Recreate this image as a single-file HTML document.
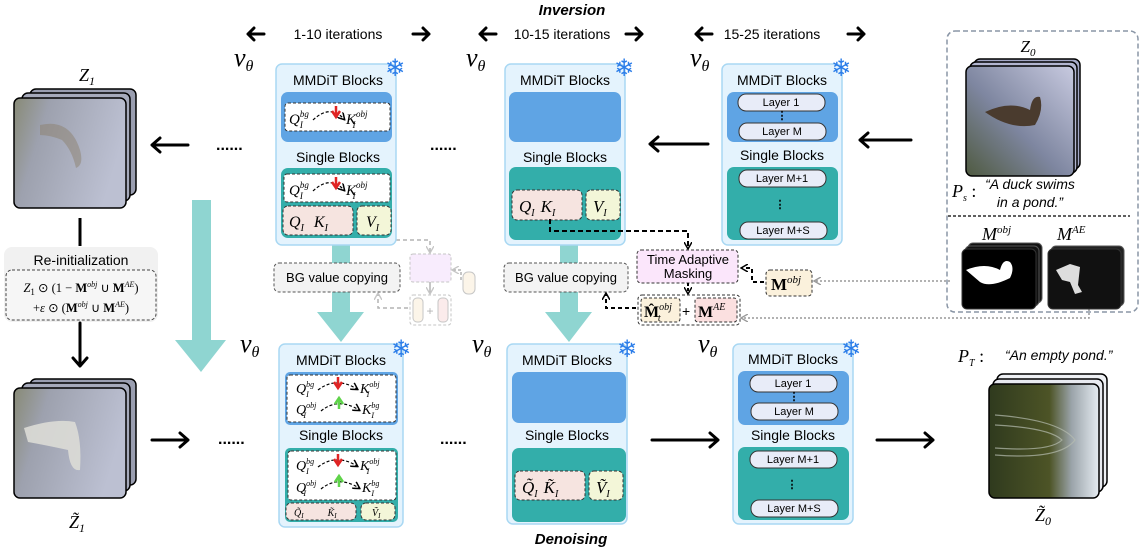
<!DOCTYPE html>
<html><head><meta charset="utf-8"><style>
html,body{margin:0;padding:0;background:#fff;}
svg{display:block;}
.s{font-family:"Liberation Sans",sans-serif;}
.m{font-family:"Liberation Serif",serif;font-style:italic;}
.sn{font-family:"DejaVu Sans",sans-serif;fill:#2b7de9;}
</style></head><body>
<svg width="1142" height="549" viewBox="0 0 1142 549" xmlns="http://www.w3.org/2000/svg">
<defs>
<marker id="ah" markerWidth="8" markerHeight="8" refX="6" refY="4" orient="auto" markerUnits="userSpaceOnUse"><path d="M0,0 L7,4 L0,8" fill="none" stroke="#000" stroke-width="1.5"/></marker>
<marker id="ag" markerWidth="8" markerHeight="8" refX="6" refY="4" orient="auto" markerUnits="userSpaceOnUse"><path d="M0,0 L7,4 L0,8" fill="none" stroke="#999" stroke-width="1.4"/></marker>
<linearGradient id="noise" x1="0" y1="0" x2="1" y2="0.3"><stop offset="0" stop-color="#888a76"/><stop offset="0.3" stop-color="#9da1ae"/><stop offset="1" stop-color="#bcc0d2"/></linearGradient>
<linearGradient id="duck" x1="0" y1="1" x2="1" y2="0"><stop offset="0" stop-color="#4f5a40"/><stop offset="0.45" stop-color="#7e86a0"/><stop offset="1" stop-color="#c8cae0"/></linearGradient>
<linearGradient id="pond" x1="0" y1="0" x2="1" y2="0"><stop offset="0" stop-color="#2f3a1e"/><stop offset="0.55" stop-color="#4d5426"/><stop offset="0.75" stop-color="#9aa3a9"/><stop offset="1" stop-color="#e6ecf2"/></linearGradient>
</defs>

<!-- header -->
<text x="572" y="15" class="s" font-size="15" font-weight="bold" font-style="italic" text-anchor="middle">Inversion</text>
<g class="s" font-size="14" text-anchor="middle">
<text x="338" y="39">1-10 iterations</text>
<text x="562" y="39">10-15 iterations</text>
<text x="772" y="39">15-25 iterations</text>
</g>
<g stroke="#000" stroke-width="3" fill="none" stroke-linecap="round" stroke-linejoin="round">
<path d="M248,34 H264 M254,28 L248,34 L254,40"/>
<path d="M413,34 H429 M423,28 L429,34 L423,40"/>
<path d="M480,34 H496 M486,28 L480,34 L486,40"/>
<path d="M626,34 H642 M636,28 L642,34 L636,40"/>
<path d="M696,34 H712 M702,28 L696,34 L702,40"/>
<path d="M848,34 H864 M858,28 L864,34 L858,40"/>
</g>

<!-- v_theta labels -->
<g class="m" font-size="26">
<text x="234" y="66">v<tspan font-size="16" dy="5">θ</tspan></text>
<text x="466" y="66">v<tspan font-size="16" dy="5">θ</tspan></text>
<text x="690" y="66">v<tspan font-size="16" dy="5">θ</tspan></text>
<text x="240" y="352">v<tspan font-size="16" dy="5">θ</tspan></text>
<text x="472" y="352">v<tspan font-size="16" dy="5">θ</tspan></text>
<text x="698" y="352">v<tspan font-size="16" dy="5">θ</tspan></text>
</g>

<!-- teal big arrows -->
<g fill="#8fd5d1">
<path d="M192,200 H211 V340 H226 L201,372 L175,340 H192 Z"/>
<path d="M332,244 H350 V312 H364 L341,342 L317,312 H332 Z"/>
<path d="M560,244 H578 V312 H592 L569,342 L545,312 H560 Z"/>
</g>

<!-- BG value copying boxes -->
<g class="s" font-size="13">
<rect x="274" y="263" width="126" height="29" rx="5" fill="#f3f3f3" stroke="#555" stroke-dasharray="3,2"/>
<text x="337" y="282" text-anchor="middle">BG value copying</text>
<rect x="504" y="263" width="124" height="29" rx="5" fill="#f3f3f3" stroke="#555" stroke-dasharray="3,2"/>
<text x="566" y="282" text-anchor="middle">BG value copying</text>
</g>

<!-- faded mini diagram -->
<g opacity="0.55">
<rect x="410" y="254" width="41" height="28" rx="3" fill="#f4defc" stroke="#999" stroke-dasharray="3,2"/>
<rect x="463" y="272" width="12" height="22" rx="5" fill="#faeed8" stroke="#999"/>
<rect x="410" y="295" width="41" height="30" rx="3" fill="#fff" stroke="#999" stroke-dasharray="3,2"/>
<rect x="413" y="298" width="10" height="24" rx="4" fill="#faeed8" stroke="#999"/>
<rect x="438" y="298" width="10" height="24" rx="4" fill="#f9dcdc" stroke="#999"/>
<text x="430" y="315" class="s" font-size="12" fill="#777" text-anchor="middle">+</text>
<path d="M320,239 V240 H430 V252" fill="none" stroke="#777" stroke-width="1.5" stroke-dasharray="4,3" marker-end="url(#ag)"/>
<path d="M461,280 V270 H453" fill="none" stroke="#777" stroke-width="1.5" stroke-dasharray="3,2" marker-end="url(#ag)"/>
<path d="M430,282 V293" fill="none" stroke="#777" stroke-width="1.5" marker-end="url(#ag)"/>
<path d="M408,308 H378 V294" fill="none" stroke="#777" stroke-width="1.5" stroke-dasharray="4,3" marker-end="url(#ag)"/>
</g>

<!-- P1 -->
<rect x="276" y="64" width="120" height="181" rx="6" fill="#e4f3fd" stroke="#a9d8f3" stroke-width="1.5"/>
<text x="338" y="85" class="s" font-size="14" text-anchor="middle">MMDiT Blocks</text>
<rect x="281" y="92" width="111" height="50" rx="7" fill="#5fa4e4"/>
<rect x="285" y="103" width="105" height="28" rx="3" fill="#fff" stroke="#333" stroke-dasharray="3,2"/>
<text x="289" y="124" class="m" font-size="15">Q<tspan font-size="9" dy="-7">bg</tspan><tspan font-size="9" dx="-9" dy="11">I</tspan></text>
<text x="346" y="124" class="m" font-size="15">K<tspan font-size="9" dy="-7">obj</tspan><tspan font-size="9" dx="-15" dy="11">I</tspan></text>
<path d="M313,120 Q330,104 344,119" fill="none" stroke="#000" stroke-width="1.2" stroke-dasharray="3,2" marker-end="url(#ah)"/>
<path d="M336,106 V115 M332,111 L336,117 L340,111" fill="none" stroke="#e02424" stroke-width="2.5"/>
<text x="338" y="162" class="s" font-size="14" text-anchor="middle">Single Blocks</text>
<rect x="281" y="168" width="111" height="70" rx="7" fill="#33aeaa"/>
<rect x="284" y="174" width="106" height="28" rx="3" fill="#fff" stroke="#333" stroke-dasharray="3,2"/>
<text x="289" y="195" class="m" font-size="15">Q<tspan font-size="9" dy="-7">bg</tspan><tspan font-size="9" dx="-9" dy="11">I</tspan></text>
<text x="346" y="195" class="m" font-size="15">K<tspan font-size="9" dy="-7">obj</tspan><tspan font-size="9" dx="-15" dy="11">I</tspan></text>
<path d="M313,191 Q330,175 344,190" fill="none" stroke="#000" stroke-width="1.2" stroke-dasharray="3,2" marker-end="url(#ah)"/>
<path d="M336,177 V186 M332,182 L336,188 L340,182" fill="none" stroke="#e02424" stroke-width="2.5"/>
<rect x="283" y="206" width="70" height="29" rx="5" fill="#f6e4e0" stroke="#333" stroke-dasharray="3,2"/>
<text x="289" y="227" class="m" font-size="16">Q<tspan font-size="10" dy="4">I</tspan><tspan dx="10" dy="-4">K</tspan><tspan font-size="10" dy="4">I</tspan></text>
<rect x="357" y="206" width="34" height="29" rx="5" fill="#f3f6d8" stroke="#333" stroke-dasharray="3,2"/>
<text x="366" y="227" class="m" font-size="16">V<tspan font-size="10" dy="4">I</tspan></text>
<text x="385" y="76" class="sn" font-size="24">❄</text>

<!-- P2 -->
<rect x="505" y="64" width="120" height="181" rx="6" fill="#e4f3fd" stroke="#a9d8f3" stroke-width="1.5"/>
<text x="565" y="85" class="s" font-size="14" text-anchor="middle">MMDiT Blocks</text>
<rect x="509" y="92" width="112" height="50" rx="7" fill="#5fa4e4"/>
<text x="565" y="162" class="s" font-size="14" text-anchor="middle">Single Blocks</text>
<rect x="509" y="167" width="112" height="73" rx="7" fill="#33aeaa"/>
<rect x="512" y="190" width="70" height="30" rx="5" fill="#f6e4e0" stroke="#333" stroke-dasharray="3,2"/>
<text x="519" y="212" class="m" font-size="17">Q<tspan font-size="10" dy="4">I</tspan><tspan dx="6" dy="-4">K</tspan><tspan font-size="10" dy="4">I</tspan></text>
<rect x="586" y="190" width="34" height="30" rx="5" fill="#f3f6d8" stroke="#333" stroke-dasharray="3,2"/>
<text x="593" y="212" class="m" font-size="17">V<tspan font-size="10" dy="4">I</tspan></text>
<text x="614" y="76" class="sn" font-size="24">❄</text>

<!-- P3 -->
<rect x="722" y="64" width="120" height="181" rx="6" fill="#e4f3fd" stroke="#a9d8f3" stroke-width="1.5"/>
<text x="782" y="85" class="s" font-size="14" text-anchor="middle">MMDiT Blocks</text>
<rect x="727" y="92" width="111" height="50" rx="7" fill="#5fa4e4"/>
<g class="s" font-size="11" text-anchor="middle">
<rect x="738" y="94" width="87" height="17" rx="8" fill="#e8ecf8" stroke="#333"/><text x="781" y="106">Layer 1</text>
<text x="782" y="119" font-weight="bold">⋮</text>
<rect x="739" y="123" width="87" height="17" rx="8" fill="#e8ecf8" stroke="#333"/><text x="782" y="135">Layer M</text>
</g>
<text x="782" y="160" class="s" font-size="14" text-anchor="middle">Single Blocks</text>
<rect x="727" y="167" width="111" height="73" rx="7" fill="#33aeaa"/>
<g class="s" font-size="11" text-anchor="middle">
<rect x="739" y="170" width="87" height="17" rx="8" fill="#e8ecf8" stroke="#333"/><text x="782" y="182">Layer M+1</text>
<text x="780" y="208" font-weight="bold">⋮</text>
<rect x="740" y="222" width="87" height="17" rx="8" fill="#e8ecf8" stroke="#333"/><text x="783" y="234">Layer M+S</text>
</g>
<text x="831" y="76" class="sn" font-size="24">❄</text>

<!-- P4 -->
<rect x="279" y="344" width="124" height="183" rx="6" fill="#e4f3fd" stroke="#a9d8f3" stroke-width="1.5"/>
<text x="341" y="365" class="s" font-size="14" text-anchor="middle">MMDiT Blocks</text>
<rect x="285" y="372" width="113" height="53" rx="5" fill="#5fa4e4"/>
<rect x="287" y="375" width="109" height="47" rx="3" fill="#fff" stroke="#333" stroke-dasharray="3,2"/>
<g class="m" font-size="14">
<text x="296" y="393">Q<tspan font-size="8" dy="-6">bg</tspan><tspan font-size="8" dx="-8" dy="10">I</tspan></text>
<text x="360" y="393">K<tspan font-size="8" dy="-6">obj</tspan><tspan font-size="8" dx="-13" dy="10">I</tspan></text>
<text x="296" y="414">Q<tspan font-size="8" dy="-6">obj</tspan><tspan font-size="8" dx="-13" dy="10">I</tspan></text>
<text x="362" y="414">K<tspan font-size="8" dy="-6">bg</tspan><tspan font-size="8" dx="-8" dy="10">I</tspan></text>
</g>
<path d="M318,390 Q336,376 357,389" fill="none" stroke="#000" stroke-width="1.2" stroke-dasharray="3,2" marker-end="url(#ah)"/>
<path d="M321,411 Q338,397 359,410" fill="none" stroke="#000" stroke-width="1.2" stroke-dasharray="3,2" marker-end="url(#ah)"/>
<path d="M338,377 V386 M334,382 L338,388 L342,382" fill="none" stroke="#e02424" stroke-width="2.5"/>
<path d="M339,409 V400 M335,404 L339,398 L343,404" fill="none" stroke="#5fd34a" stroke-width="2.5"/>
<text x="341" y="440" class="s" font-size="14" text-anchor="middle">Single Blocks</text>
<rect x="285" y="448" width="113" height="74" rx="5" fill="#33aeaa"/>
<rect x="288" y="451" width="108" height="49" rx="3" fill="#fff" stroke="#333" stroke-dasharray="3,2"/>
<g class="m" font-size="14">
<text x="296" y="470">Q<tspan font-size="8" dy="-6">bg</tspan><tspan font-size="8" dx="-8" dy="10">I</tspan></text>
<text x="360" y="470">K<tspan font-size="8" dy="-6">obj</tspan><tspan font-size="8" dx="-13" dy="10">I</tspan></text>
<text x="296" y="492">Q<tspan font-size="8" dy="-6">obj</tspan><tspan font-size="8" dx="-13" dy="10">I</tspan></text>
<text x="362" y="492">K<tspan font-size="8" dy="-6">bg</tspan><tspan font-size="8" dx="-8" dy="10">I</tspan></text>
</g>
<path d="M318,467 Q336,453 357,466" fill="none" stroke="#000" stroke-width="1.2" stroke-dasharray="3,2" marker-end="url(#ah)"/>
<path d="M321,489 Q338,475 359,488" fill="none" stroke="#000" stroke-width="1.2" stroke-dasharray="3,2" marker-end="url(#ah)"/>
<path d="M338,454 V463 M334,459 L338,465 L342,459" fill="none" stroke="#e02424" stroke-width="2.5"/>
<path d="M339,487 V478 M335,482 L339,476 L343,482" fill="none" stroke="#5fd34a" stroke-width="2.5"/>
<rect x="286" y="503" width="70" height="17" rx="5" fill="#f6e4e0" stroke="#333" stroke-dasharray="3,2"/>
<text x="294" y="516" class="m" font-size="10">Q̃<tspan font-size="7" dy="2">I</tspan><tspan dx="24" dy="-2">K̃</tspan><tspan font-size="7" dy="2">I</tspan></text>
<rect x="361" y="503" width="34" height="17" rx="5" fill="#f3f6d8" stroke="#333" stroke-dasharray="3,2"/>
<text x="372" y="516" class="m" font-size="10">Ṽ<tspan font-size="7" dy="2">I</tspan></text>
<text x="391" y="357" class="sn" font-size="24">❄</text>

<!-- P5 -->
<rect x="507" y="344" width="120" height="180" rx="6" fill="#e4f3fd" stroke="#a9d8f3" stroke-width="1.5"/>
<text x="567" y="365" class="s" font-size="14" text-anchor="middle">MMDiT Blocks</text>
<rect x="512" y="372" width="114" height="51" rx="7" fill="#5fa4e4"/>
<text x="567" y="440" class="s" font-size="14" text-anchor="middle">Single Blocks</text>
<rect x="512" y="448" width="114" height="74" rx="7" fill="#33aeaa"/>
<rect x="515" y="471" width="70" height="29" rx="5" fill="#f6e4e0" stroke="#333" stroke-dasharray="3,2"/>
<text x="522" y="493" class="m" font-size="17">Q̃<tspan font-size="10" dy="4">I</tspan><tspan dx="6" dy="-4">K̃</tspan><tspan font-size="10" dy="4">I</tspan></text>
<rect x="589" y="471" width="34" height="29" rx="5" fill="#f3f6d8" stroke="#333" stroke-dasharray="3,2"/>
<text x="596" y="493" class="m" font-size="17">Ṽ<tspan font-size="10" dy="4">I</tspan></text>
<text x="617" y="357" class="sn" font-size="24">❄</text>
<text x="571" y="544" class="s" font-size="15" font-weight="bold" font-style="italic" text-anchor="middle">Denoising</text>

<!-- P6 -->
<rect x="733" y="344" width="120" height="180" rx="6" fill="#e4f3fd" stroke="#a9d8f3" stroke-width="1.5"/>
<text x="793" y="364" class="s" font-size="14" text-anchor="middle">MMDiT Blocks</text>
<rect x="738" y="371" width="111" height="54" rx="7" fill="#5fa4e4"/>
<g class="s" font-size="11" text-anchor="middle">
<rect x="750" y="375" width="87" height="17" rx="8" fill="#e8ecf8" stroke="#333"/><text x="793" y="387">Layer 1</text>
<text x="794" y="400" font-weight="bold">⋮</text>
<rect x="751" y="403" width="87" height="17" rx="8" fill="#e8ecf8" stroke="#333"/><text x="794" y="415">Layer M</text>
</g>
<text x="793" y="440" class="s" font-size="14" text-anchor="middle">Single Blocks</text>
<rect x="738" y="447" width="111" height="73" rx="7" fill="#33aeaa"/>
<g class="s" font-size="11" text-anchor="middle">
<rect x="750" y="451" width="87" height="17" rx="8" fill="#e8ecf8" stroke="#333"/><text x="793" y="463">Layer M+1</text>
<text x="792" y="488" font-weight="bold">⋮</text>
<rect x="751" y="500" width="87" height="17" rx="8" fill="#e8ecf8" stroke="#333"/><text x="794" y="512">Layer M+S</text>
</g>
<text x="841" y="357" class="sn" font-size="24">❄</text>

<!-- Time adaptive masking -->
<path d="M550,219 V231 H688 V248" fill="none" stroke="#000" stroke-width="2" stroke-dasharray="5,3" marker-end="url(#ah)"/>
<rect x="637" y="250" width="101" height="33" rx="4" fill="#fbe6fb" stroke="#333" stroke-dasharray="3,2"/>
<text x="688" y="264" class="s" font-size="13" text-anchor="middle">Time Adaptive</text>
<text x="688" y="278" class="s" font-size="13" text-anchor="middle">Masking</text>
<rect x="766" y="270" width="46" height="26" rx="4" fill="#fbf1dc" stroke="#333" stroke-dasharray="3,2"/>
<text x="771" y="290" font-family="Liberation Serif,serif" font-weight="bold" font-size="17">M<tspan font-style="italic" font-weight="normal" font-size="11" dy="-7">obj</tspan></text>
<path d="M764,282 H752 V268 H742" fill="none" stroke="#000" stroke-width="2" stroke-dasharray="4,3" marker-end="url(#ah)"/>
<path d="M688,283 V293" fill="none" stroke="#000" stroke-width="2" stroke-dasharray="3,2" marker-end="url(#ah)"/>
<rect x="638" y="295" width="102" height="30" rx="4" fill="#fff" stroke="#333" stroke-dasharray="3,2"/>
<rect x="641" y="298" width="39" height="24" rx="3" fill="#fbf1dc" stroke="#333" stroke-dasharray="3,2"/>
<rect x="695" y="298" width="42" height="24" rx="3" fill="#fbe0e0" stroke="#333" stroke-dasharray="3,2"/>
<text x="644" y="317" font-family="Liberation Serif,serif" font-weight="bold" font-size="16">M̂<tspan font-style="italic" font-weight="normal" font-size="10" dy="-7">obj</tspan><tspan font-style="italic" font-weight="normal" font-size="10" dx="-14" dy="11">t</tspan></text>
<text x="682" y="316" class="s" font-size="14">+</text>
<text x="698" y="317" font-family="Liberation Serif,serif" font-weight="bold" font-size="16">M<tspan font-style="italic" font-weight="normal" font-size="10" dy="-7">AE</tspan></text>
<path d="M636,308 H606 V294" fill="none" stroke="#000" stroke-width="2" stroke-dasharray="4,3" marker-end="url(#ah)"/>
<path d="M950,281 H815" fill="none" stroke="#999" stroke-width="1.5" stroke-dasharray="2,2" marker-end="url(#ag)"/>
<path d="M1089,305 V318 H742" fill="none" stroke="#999" stroke-width="1.5" stroke-dasharray="2,2" marker-end="url(#ag)"/>

<!-- horizontal arrows + dots -->
<g stroke="#000" stroke-width="3" fill="none" stroke-linecap="round" stroke-linejoin="round">
<path d="M152,145 H188 M160,138 L152,145 L160,152"/>
<path d="M650,144 H708 M658,137 L650,144 L658,151"/>
<path d="M860,140 H911 M868,133 L860,140 L868,147"/>
<path d="M152,440 H188 M180,433 L188,440 L180,447"/>
<path d="M652,440 H718 M710,433 L718,440 L710,447"/>
<path d="M877,440 H933 M925,433 L933,440 L925,447"/>
</g>
<g class="s" font-size="16" font-weight="bold">
<text x="216" y="150">......</text>
<text x="430" y="150">......</text>
<text x="218" y="444">......</text>
<text x="440" y="444">......</text>
</g>

<!-- left column -->
<text x="87" y="81" class="m" font-size="18" text-anchor="middle">Z<tspan font-size="12" dy="4">1</tspan></text>
<rect x="30" y="89" width="106" height="106" rx="6" fill="#9a9eb0" stroke="#000" stroke-width="1.5"/>
<rect x="22" y="93" width="108" height="108" rx="6" fill="#a6aabb" stroke="#000" stroke-width="1.5"/>
<rect x="14" y="98" width="112" height="110" rx="6" fill="url(#noise)" stroke="#000" stroke-width="1.5"/>
<path d="M40,125 Q70,118 80,150 Q84,165 76,168 Q72,150 62,140 Q50,135 40,135 Z" fill="#8a7c66" opacity="0.45"/>
<path d="M80,218 V246" stroke="#000" stroke-width="3"/>
<rect x="4" y="247" width="154" height="75" rx="8" fill="#f1f1f1"/>
<text x="81" y="265" class="s" font-size="14" text-anchor="middle">Re-initialization</text>
<rect x="6" y="270" width="150" height="50" rx="6" fill="#f6f6f6" stroke="#444" stroke-dasharray="3,2"/>
<text x="81" y="292" font-family="Liberation Serif,serif" font-size="12.5" text-anchor="middle"><tspan font-style="italic">Z</tspan><tspan font-size="9" dy="3">1</tspan><tspan dy="-3"> ⊙ (1 − </tspan><tspan font-weight="bold">M</tspan><tspan font-style="italic" font-size="8" dy="-5">obj</tspan><tspan dy="5"> ∪ </tspan><tspan font-weight="bold">M</tspan><tspan font-style="italic" font-size="8" dy="-5">AE</tspan><tspan dy="5">)</tspan></text>
<text x="81" y="312" font-family="Liberation Serif,serif" font-size="12.5" text-anchor="middle">+<tspan font-style="italic">ε</tspan> ⊙ (<tspan font-weight="bold">M</tspan><tspan font-style="italic" font-size="8" dy="-5">obj</tspan><tspan dy="5"> ∪ </tspan><tspan font-weight="bold">M</tspan><tspan font-style="italic" font-size="8" dy="-5">AE</tspan><tspan dy="5">)</tspan></text>
<g stroke="#000" stroke-width="3" fill="none" stroke-linecap="round" stroke-linejoin="round">
<path d="M80,323 V366 M73,358 L80,366 L87,358"/>
</g>
<rect x="30" y="379" width="106" height="106" rx="6" fill="#9a9eb0" stroke="#000" stroke-width="1.5"/>
<rect x="22" y="383" width="108" height="108" rx="6" fill="#a6aabb" stroke="#000" stroke-width="1.5"/>
<rect x="14" y="388" width="112" height="110" rx="6" fill="url(#noise)" stroke="#000" stroke-width="1.5"/>
<path d="M24,428 Q55,418 75,422 Q82,440 80,470 Q70,472 68,450 Q45,445 28,442 Z" fill="#dcdcd6" opacity="0.9"/>
<text x="77" y="528" class="m" font-size="18" text-anchor="middle">Z̃<tspan font-size="12" dy="4">1</tspan></text>

<!-- right source box -->
<rect x="947" y="31" width="191" height="281" rx="8" fill="none" stroke="#8a96a6" stroke-width="1.5" stroke-dasharray="5,3"/>
<text x="1028" y="52" class="m" font-size="17" text-anchor="middle">Z<tspan font-size="11" dy="4">0</tspan></text>
<rect x="974" y="59" width="106" height="110" rx="6" fill="#a4a8c6" stroke="#000" stroke-width="1.5"/>
<rect x="970" y="62" width="107" height="111" rx="6" fill="#b2b5d0" stroke="#000" stroke-width="1.5"/>
<rect x="966" y="66" width="108" height="110" rx="6" fill="url(#duck)" stroke="#000" stroke-width="1.5"/>
<path d="M985,112 Q1010,100 1030,110 Q1032,95 1040,97 Q1044,110 1035,125 Q1010,130 985,112 Z" fill="#4a3b2e"/>
<text x="952" y="197" class="m" font-size="18">P<tspan font-size="10" dy="4">s</tspan><tspan dy="-4" font-style="normal"> :</tspan></text>
<text x="1030" y="189" class="s" font-size="14" font-style="italic" text-anchor="middle">“A duck swims</text>
<text x="1030" y="207" class="s" font-size="14" font-style="italic" text-anchor="middle">in a pond.”</text>
<path d="M948,216 H1130" stroke="#000" stroke-width="1.3" stroke-dasharray="3,2"/>
<text x="982" y="240" class="m" font-size="18">M<tspan font-size="11" dy="-7">obj</tspan></text>
<text x="1057" y="240" class="m" font-size="18">M<tspan font-size="11" dy="-7">AE</tspan></text>
<rect x="968" y="243" width="74" height="60" rx="5" fill="#111" stroke="#555"/>
<rect x="965" y="246" width="74" height="60" rx="5" fill="#111" stroke="#555"/>
<rect x="962" y="249" width="74" height="60" rx="5" fill="#000" stroke="#333"/>
<path d="M966,270 Q985,262 1000,270 Q1003,258 1010,262 Q1015,268 1010,278 Q990,288 980,282 Z" fill="#fff"/>
<rect x="1051" y="246" width="73" height="60" rx="5" fill="#222" stroke="#555"/>
<rect x="1048" y="249" width="73" height="60" rx="5" fill="#111" stroke="#333"/>
<path d="M1056,270 L1070,264 L1080,267 L1078,285 L1082,292 L1075,294 L1070,282 L1062,280 Z" fill="#ddd"/>

<!-- output -->
<text x="958" y="362" class="m" font-size="18">P<tspan font-size="10" dy="4">T</tspan><tspan dy="-4" font-style="normal"> :</tspan></text>
<text x="1005" y="360" class="s" font-size="14" font-style="italic">“An empty pond.”</text>
<rect x="997" y="374" width="110" height="113" rx="6" fill="#eef0f4" stroke="#000" stroke-width="1.5"/>
<rect x="993" y="379" width="110" height="113" rx="6" fill="#e8eaf0" stroke="#000" stroke-width="1.5"/>
<rect x="989" y="384" width="110" height="114" rx="6" fill="url(#pond)" stroke="#000" stroke-width="1.5"/>
<path d="M995,415 Q1060,420 1075,440 Q1060,460 995,455" fill="none" stroke="#b7bdb0" stroke-width="1.2" opacity="0.7"/>
<path d="M995,425 Q1050,428 1062,440 Q1050,452 995,448" fill="none" stroke="#b7bdb0" stroke-width="1.2" opacity="0.7"/>
<text x="1043" y="521" class="m" font-size="18" text-anchor="middle">Z̃<tspan font-size="12" dy="4">0</tspan></text>
</svg>
</body></html>
